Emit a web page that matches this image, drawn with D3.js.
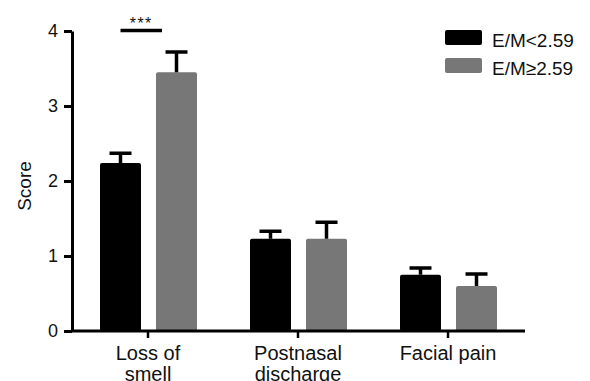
<!DOCTYPE html>
<html>
<head>
<meta charset="utf-8">
<script src="https://cdn.jsdelivr.net/npm/d3@7"></script>
<style>
  body { margin: 0; background: #fff; }
  svg text { font-family: "Liberation Sans", Arial, sans-serif; fill: #111; }
</style>
</head>
<body>
<svg id="chart" width="590" height="381"></svg>
<script>
// data
const categories = ['Loss of smell', 'Postnasal discharge', 'Facial pain'];
const catLines   = [['Loss of', 'smell'], ['Postnasal', 'discharge'], ['Facial pain']];
const groups     = ['E/M<2.59', 'E/M\u22652.59'];
const lowMeans   = [2.24, 1.23, 0.75];
const lowErr     = [0.13, 0.10, 0.09];
const highMeans  = [3.45, 1.23, 0.60];
const highErr    = [0.27, 0.22, 0.16];
const yTicks     = [0, 1, 2, 3, 4];

const colors = ['#000000', '#777777'];

const data = categories.map((c, i) => [
    { cat: c, group: groups[0], mean: lowMeans[i],  err: lowErr[i] },
    { cat: c, group: groups[1], mean: highMeans[i], err: highErr[i] }
]).flat();

const svg = d3.select('#chart');

const y = d3.scaleLinear().domain([0, 4]).range([331, 31]);
const x0 = d3.scaleBand().domain(categories).range([73, 523]).padding(0);
const x1 = d3.scaleBand().domain(groups).range([27, 124]).paddingInner(0.268).paddingOuter(0);
const color = d3.scaleOrdinal().domain(groups).range(colors);

// bars
const bars = svg.append('g');
bars.selectAll('rect')
    .data(data)
    .join('rect')
    .attr('x', d => x0(d.cat) + x1(d.group))
    .attr('y', d => y(d.mean))
    .attr('width', x1.bandwidth())
    .attr('height', d => y(0) - y(d.mean))
    .attr('rx', 2)
    .attr('fill', d => color(d.group));

// error bars (upper only)
const eb = svg.append('g').attr('stroke', '#000').attr('stroke-width', 3.5);
data.forEach(d => {
    const cx = x0(d.cat) + x1(d.group) + x1.bandwidth() / 2;
    eb.append('line')
        .attr('x1', cx).attr('x2', cx)
        .attr('y1', y(d.mean)).attr('y2', y(d.mean + d.err));
    eb.append('line')
        .attr('x1', cx - 11).attr('x2', cx + 11)
        .attr('y1', y(d.mean + d.err)).attr('y2', y(d.mean + d.err));
});

// y axis
const yAxis = svg.append('g')
    .attr('transform', 'translate(72,0)')
    .call(d3.axisLeft(y).tickValues(yTicks).tickFormat(d3.format('d'))
        .tickSize(8).tickPadding(6).tickSizeOuter(0));
yAxis.select('.domain').attr('stroke-width', 3);
yAxis.selectAll('.tick line').attr('stroke-width', 3);
yAxis.selectAll('.tick text').attr('font-size', 18).attr('fill', '#111');

// x axis
const xAxis = svg.append('g')
    .attr('transform', 'translate(0,331)')
    .call(d3.axisBottom(x0).tickSize(7).tickFormat('').tickSizeOuter(0));
xAxis.select('.domain').attr('stroke-width', 3).attr('d', 'M72,0H525');
xAxis.selectAll('.tick line').attr('stroke-width', 2.5);

const labels = svg.append('g');
categories.forEach((c, i) => {
    const cx = x0(c) + x0.bandwidth() / 2;
    const t = labels.append('text')
        .attr('x', cx)
        .attr('y', 360)
        .attr('text-anchor', 'middle')
        .attr('font-size', 20);
    catLines[i].forEach((ln, j) => {
        t.append('tspan')
            .attr('x', cx)
            .attr('dy', j === 0 ? 0 : 21)
            .text(ln);
    });
});

// y title
svg.append('text')
    .attr('transform', 'translate(31,186) rotate(-90)')
    .attr('text-anchor', 'middle')
    .attr('font-size', 19)
    .text('Score');

// significance marker
const sx1 = x0(categories[0]) + x1(groups[0]) + x1.bandwidth() / 2;
const sx2 = x0(categories[0]) + x1(groups[1]) + 6;
svg.append('line')
    .attr('x1', sx1).attr('x2', sx2)
    .attr('y1', y(4) - 0.5).attr('y2', y(4) - 0.5)
    .attr('stroke', '#000').attr('stroke-width', 3.5);
svg.append('text')
    .attr('x', (sx1 + sx2) / 2)
    .attr('y', 29)
    .attr('text-anchor', 'middle')
    .attr('font-size', 16)
    .attr('letter-spacing', 1.5)
    .text('***');

// legend
const legend = svg.append('g').attr('transform', 'translate(445,30)');
groups.forEach((gr, i) => {
    const row = legend.append('g').attr('transform', `translate(0,${i * 28})`);
    row.append('rect')
        .attr('width', 37).attr('height', 15).attr('rx', 2)
        .attr('fill', colors[i]);
    row.append('text')
        .attr('x', 47).attr('y', 17)
        .attr('font-size', 19)
        .text(gr);
});
</script>
</body>
</html>
